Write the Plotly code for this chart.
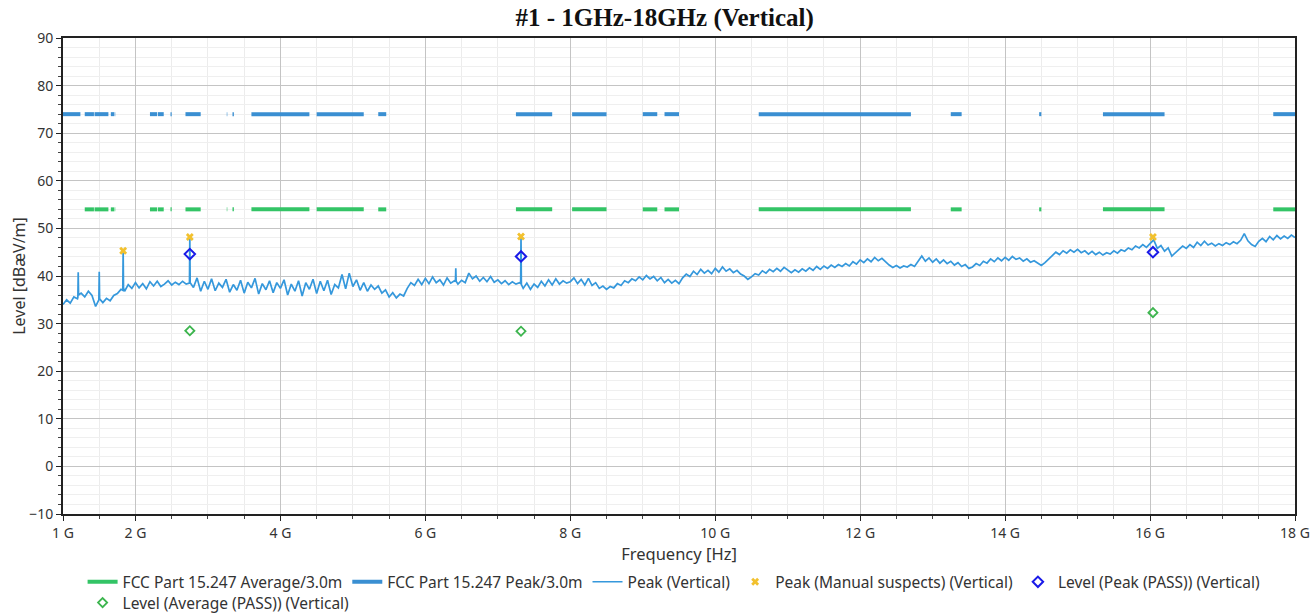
import plotly.graph_objects as go

# ---------------- data ----------------
title_text = "#1 - 1GHz-18GHz (Vertical)"

# restricted-band segments where the limits are drawn (GHz)
peak_band_start = [1.0, 1.3, 1.435, 1.6455, 1.66, 1.7188, 2.2, 2.31, 2.4835, 2.69, 3.26, 3.332, 3.3458,
                   3.6, 4.5, 5.35, 7.25, 8.025, 9.0, 9.3, 10.6, 13.25, 14.47, 15.35, 17.7]
peak_band_end = [1.24, 1.427, 1.6265, 1.6465, 1.71, 1.7222, 2.3, 2.39, 2.5, 2.9, 3.267, 3.339, 3.358,
                 4.4, 5.15, 5.46, 7.75, 8.5, 9.2, 9.5, 12.7, 13.4, 14.5, 16.2, 18.0]
avg_band_start = peak_band_start[1:]
avg_band_end = peak_band_end[1:]
peak_limit = 74.0
avg_limit = 54.0

# measured peak trace (GHz, dBuV/m)
trace_freq = [
    1.00, 1.05, 1.10, 1.15, 1.20, 1.205, 1.21, 1.215, 1.25, 1.30, 1.35, 1.40, 1.45, 1.495, 1.50, 1.505,
    1.55, 1.60, 1.65, 1.70, 1.75, 1.80, 1.825, 1.83, 1.835, 1.85, 1.90, 1.95,
    2.00, 2.05, 2.10, 2.15, 2.20, 2.25, 2.30, 2.35, 2.40, 2.45, 2.50, 2.55, 2.60, 2.65, 2.70,
    2.745, 2.75, 2.755, 2.80, 2.85, 2.90, 2.95,
    3.00, 3.05, 3.10, 3.15, 3.20, 3.25, 3.30, 3.35, 3.40, 3.45, 3.50, 3.55, 3.60, 3.65, 3.70, 3.75, 3.80, 3.85, 3.90, 3.95,
    4.00, 4.05, 4.10, 4.15, 4.20, 4.25, 4.30, 4.35, 4.40, 4.45, 4.50, 4.55, 4.60, 4.65, 4.70, 4.75, 4.80, 4.85, 4.90, 4.95,
    5.00, 5.05, 5.10, 5.15, 5.20, 5.25, 5.30, 5.35, 5.40, 5.45, 5.50, 5.55, 5.60, 5.65, 5.70, 5.75, 5.80, 5.85, 5.90, 5.95,
    6.00, 6.05, 6.10, 6.15, 6.20, 6.25, 6.30, 6.35, 6.40, 6.415, 6.42, 6.425, 6.45, 6.50, 6.55, 6.60, 6.65, 6.70,
    6.75, 6.80, 6.85, 6.90, 6.95,
    7.00, 7.05, 7.10, 7.15, 7.20, 7.25, 7.30, 7.315, 7.32, 7.325, 7.35, 7.40, 7.45, 7.50, 7.55, 7.60, 7.65, 7.70,
    7.75, 7.80, 7.85, 7.90, 7.95,
    8.00, 8.05, 8.10, 8.15, 8.20, 8.25, 8.30, 8.35, 8.40, 8.45, 8.50, 8.55, 8.60, 8.65, 8.70, 8.75, 8.80, 8.85, 8.90, 8.95,
    9.00, 9.05, 9.10, 9.15, 9.20, 9.25, 9.30, 9.35, 9.40, 9.45, 9.50, 9.55, 9.60, 9.65, 9.70, 9.75, 9.80, 9.85, 9.90, 9.95,
    10.00, 10.05, 10.10, 10.15, 10.20, 10.25, 10.30, 10.35, 10.40, 10.45, 10.50, 10.55, 10.60, 10.65, 10.70, 10.75, 10.80, 10.85, 10.90, 10.95,
    11.00, 11.05, 11.10, 11.15, 11.20, 11.25, 11.30, 11.35, 11.40, 11.45, 11.50, 11.55, 11.60, 11.65, 11.70, 11.75, 11.80, 11.85, 11.90, 11.95,
    12.00, 12.05, 12.10, 12.15, 12.20, 12.25, 12.30, 12.35, 12.40, 12.45, 12.50, 12.55, 12.60, 12.65, 12.70, 12.75, 12.80, 12.85, 12.90, 12.95,
    13.00, 13.05, 13.10, 13.15, 13.20, 13.25, 13.30, 13.35, 13.40, 13.45, 13.50, 13.55, 13.60, 13.65, 13.70, 13.75, 13.80, 13.85, 13.90, 13.95,
    14.00, 14.05, 14.10, 14.15, 14.20, 14.25, 14.30, 14.35, 14.40, 14.45, 14.50, 14.55, 14.60, 14.65, 14.70, 14.75, 14.80, 14.85, 14.90, 14.95,
    15.00, 15.05, 15.10, 15.15, 15.20, 15.25, 15.30, 15.35, 15.40, 15.45, 15.50, 15.55, 15.60, 15.65, 15.70, 15.75, 15.80, 15.85, 15.90, 15.95,
    16.00, 16.05, 16.10, 16.15, 16.20, 16.25, 16.30, 16.35, 16.40, 16.45, 16.50, 16.55, 16.60, 16.65, 16.70, 16.75, 16.80, 16.85, 16.90, 16.95,
    17.00, 17.05, 17.10, 17.15, 17.20, 17.25, 17.30, 17.35, 17.40, 17.45, 17.50, 17.55, 17.60, 17.65, 17.70, 17.75, 17.80, 17.85, 17.90, 17.95,
    18.00,
]
trace_level = [
    34.0, 35.0, 34.3, 35.6, 35.2, 35.5, 40.8, 36.0, 36.4, 35.6, 36.8, 35.9, 33.6, 35.0, 40.9, 35.2,
    34.4, 35.3, 34.8, 35.9, 36.3, 37.2, 37.0, 45.3, 37.5, 36.8, 38.2, 37.4,
    38.6, 37.5, 38.4, 37.3, 38.8, 37.9, 38.9, 37.8, 38.3, 39.0, 38.1, 38.7, 38.2, 38.9, 38.3,
    38.5, 48.2, 38.6, 37.6, 39.6, 36.8, 38.9,
    37.2, 39.4, 36.9, 38.5, 37.6, 39.3, 36.6, 38.2, 37.0, 39.1, 36.4, 38.7, 37.5, 39.5, 36.2, 38.4, 37.1, 39.0, 36.5, 38.6,
    37.4, 39.2, 36.0, 38.3, 36.8, 39.0, 35.8, 38.6, 37.2, 39.3, 36.3, 38.9, 36.9, 39.1, 36.1, 38.2, 37.5, 40.3, 37.3, 40.6,
    37.8, 39.2, 37.0, 38.6, 36.8, 38.1, 37.2, 37.9, 36.4, 37.1, 35.6, 36.5, 35.4, 36.2, 35.8, 37.4, 38.6, 38.0, 39.3, 38.2,
    39.5, 38.4, 39.8, 38.6, 39.2, 38.1, 39.6, 38.5, 39.0, 38.8, 41.6, 38.9, 38.3, 39.1, 38.6, 40.6, 39.4, 40.0,
    38.9, 39.7, 38.8, 39.9, 38.7,
    39.2, 38.4, 39.0, 38.2, 38.8, 38.3, 38.6, 38.4, 48.3, 38.2, 37.4, 38.5, 37.2, 38.3, 37.6, 38.9, 37.9, 39.2,
    38.1, 39.4, 38.3, 39.0, 38.5,
    38.8, 39.6, 38.4, 39.3, 38.1, 39.5, 38.0, 38.6, 37.4, 37.9, 37.2, 37.8, 37.5, 38.4, 38.0, 39.0, 38.6, 39.4, 39.0, 39.8,
    39.2, 40.1, 39.4, 39.9, 39.0, 39.7, 38.6, 39.3, 38.5, 39.1, 38.4, 39.6, 40.4, 39.9, 41.0, 40.3, 41.4, 40.6, 41.2, 40.5,
    41.6, 40.8, 41.9, 41.0, 41.5, 40.7, 41.2, 40.4, 40.0, 39.3, 39.8, 40.5, 40.2, 41.1, 40.6, 41.4, 40.9, 41.6, 41.0, 41.8,
    41.2, 40.7, 41.3, 40.8, 41.5, 41.0, 41.7, 41.2, 42.0, 41.4, 42.1, 41.6, 42.3, 41.8, 42.4, 42.0, 42.6, 42.1, 43.0, 42.5,
    43.4, 42.8, 43.6, 43.0, 43.9, 43.2, 43.7, 42.9, 42.3, 41.8, 42.2, 41.7, 42.1, 41.9, 42.4, 42.0, 43.0, 44.2, 43.1, 43.8,
    42.9, 43.6, 42.7, 43.4, 42.6, 43.1, 42.3, 42.8, 42.0, 42.4, 41.6, 41.9, 42.6, 42.2, 43.1, 42.7, 43.6, 43.0, 43.8, 43.2,
    43.9, 43.3, 44.1, 43.5, 43.8, 43.1, 43.6, 42.9, 43.2, 42.6, 42.2, 42.8, 43.5, 44.4, 45.0, 44.5, 45.3, 44.8, 45.5, 45.0,
    45.6, 44.9, 45.3, 44.6, 45.2, 44.5, 45.0, 44.4, 44.9, 44.6, 45.3, 44.8, 45.5, 45.2, 45.9, 45.5, 46.3, 45.9, 46.6, 46.0,
    46.8, 47.6, 45.8, 46.4, 45.2, 45.9, 44.2, 45.0, 45.6, 46.3, 45.8, 46.6, 46.0, 47.1, 46.4, 47.3, 46.5, 46.9, 46.3, 46.8,
    46.4, 47.0, 46.6, 47.2, 46.8, 47.5, 48.9, 47.4, 46.6, 46.2, 47.3, 47.9, 47.2, 48.3, 47.6, 48.5, 47.8, 48.4, 47.9, 48.6,
    48.1,
]

suspect_freq = [1.83, 2.75, 7.32, 16.04]
suspect_level = [45.3, 48.2, 48.3, 48.2]
peak_pass_freq = [2.75, 7.32, 16.04]
peak_pass_level = [44.6, 44.1, 45.0]
avg_pass_freq = [2.75, 7.32, 16.04]
avg_pass_level = [28.5, 28.4, 32.3]

x_tick_vals = [1, 2, 4, 6, 8, 10, 12, 14, 16, 18]
x_tick_text = ["1 G", "2 G", "4 G", "6 G", "8 G", "10 G", "12 G", "14 G", "16 G", "18 G"]

# ---------------- figure ----------------
assert len(trace_freq) == len(trace_level)


def segments(starts, ends, level):
    xs, ys = [], []
    for s, e in zip(starts, ends):
        xs += [s, e, None]
        ys += [level, level, None]
    return xs, ys


FONT = "Noto Sans"
GREEN = "#33c466"
BLUE_LIM = "#3a8fd2"
BLUE_TR = "#3598dc"

fig = go.Figure()
ax, ay = segments(avg_band_start, avg_band_end, avg_limit)
fig.add_trace(go.Scatter(x=ax, y=ay, mode="lines", name="FCC Part 15.247 Average/3.0m",
                         line=dict(color=GREEN, width=4), connectgaps=False))
px_, py_ = segments(peak_band_start, peak_band_end, peak_limit)
fig.add_trace(go.Scatter(x=px_, y=py_, mode="lines", name="FCC Part 15.247 Peak/3.0m",
                         line=dict(color=BLUE_LIM, width=4), connectgaps=False))
fig.add_trace(go.Scatter(x=trace_freq, y=trace_level, mode="lines", name="Peak (Vertical)",
                         line=dict(color=BLUE_TR, width=1.7)))
fig.add_trace(go.Scatter(x=suspect_freq, y=suspect_level, mode="markers",
                         name="Peak (Manual suspects) (Vertical)",
                         marker=dict(symbol="x", size=7, color="#f2c12e", line=dict(width=0))))
fig.add_trace(go.Scatter(x=peak_pass_freq, y=peak_pass_level, mode="markers",
                         name="Level (Peak (PASS)) (Vertical)",
                         marker=dict(symbol="diamond-open", size=8, color="#1a1ae8", line=dict(width=2))))
fig.add_trace(go.Scatter(x=avg_pass_freq, y=avg_pass_level, mode="markers",
                         name="Level (Average (PASS)) (Vertical)", legend="legend2",
                         marker=dict(symbol="diamond-open", size=7, color="#3cb54e", line=dict(width=1.8))))

legend_common = dict(orientation="h", xref="container", yref="container", xanchor="left", yanchor="top",
                     font=dict(family=FONT, size=15.5, color="#333333"),
                     itemwidth=30, tracegroupgap=0, bgcolor="rgba(0,0,0,0)")

fig.update_layout(
    width=1311, height=613,
    margin=dict(l=63, r=16, t=38, b=99, autoexpand=False),
    paper_bgcolor="white", plot_bgcolor="white",
    font=dict(family=FONT, size=14, color="#333333"),
    title=dict(text="<b>" + title_text + "</b>", x=0.507, xanchor="center", y=0.972, yanchor="middle",
               xref="container", yref="container",
               font=dict(family="Liberation Serif", size=25, color="#111111")),
    showlegend=True,
    legend=dict(x=0.063, y=0.078, **legend_common),
    legend2=dict(x=0.063, y=0.044, **legend_common),
)
fig.update_xaxes(
    range=[1, 18], tickmode="array", tickvals=x_tick_vals, ticktext=x_tick_text, automargin=False,
    showline=True, linecolor="#222222", linewidth=2, mirror=True,
    ticks="outside", ticklen=5, tickcolor="#222222", tickwidth=1,
    showgrid=True, gridcolor="#c4c4c4", gridwidth=1.2, zeroline=False,
    minor=dict(dtick=0.5, tick0=0, ticks="outside", ticklen=3, tickcolor="#444444",
               showgrid=True, gridcolor="#ececec", gridwidth=1),
    title=dict(text="Frequency [Hz]", font=dict(family=FONT, size=16.5, color="#333333"), standoff=8),
    tickfont=dict(family=FONT, size=14, color="#333333"),
)
fig.update_yaxes(
    range=[-10, 90], dtick=10, tick0=0, automargin=False,
    showline=True, linecolor="#222222", linewidth=2, mirror=True,
    ticks="outside", ticklen=5, tickcolor="#222222", tickwidth=1,
    showgrid=True, gridcolor="#c4c4c4", gridwidth=1.2, zeroline=False,
    minor=dict(dtick=2, tick0=0, ticks="outside", ticklen=3, tickcolor="#444444",
               showgrid=True, gridcolor="#efefef", gridwidth=1),
    title=dict(text="Level [dBæV/m]", font=dict(family=FONT, size=16, color="#333333"), standoff=0),
    tickfont=dict(family=FONT, size=14, color="#333333"),
)

fig.write_html("out.html", config={"displayModeBar": False},
               post_script="document.body.style.margin='0';document.body.style.overflow='hidden';")
